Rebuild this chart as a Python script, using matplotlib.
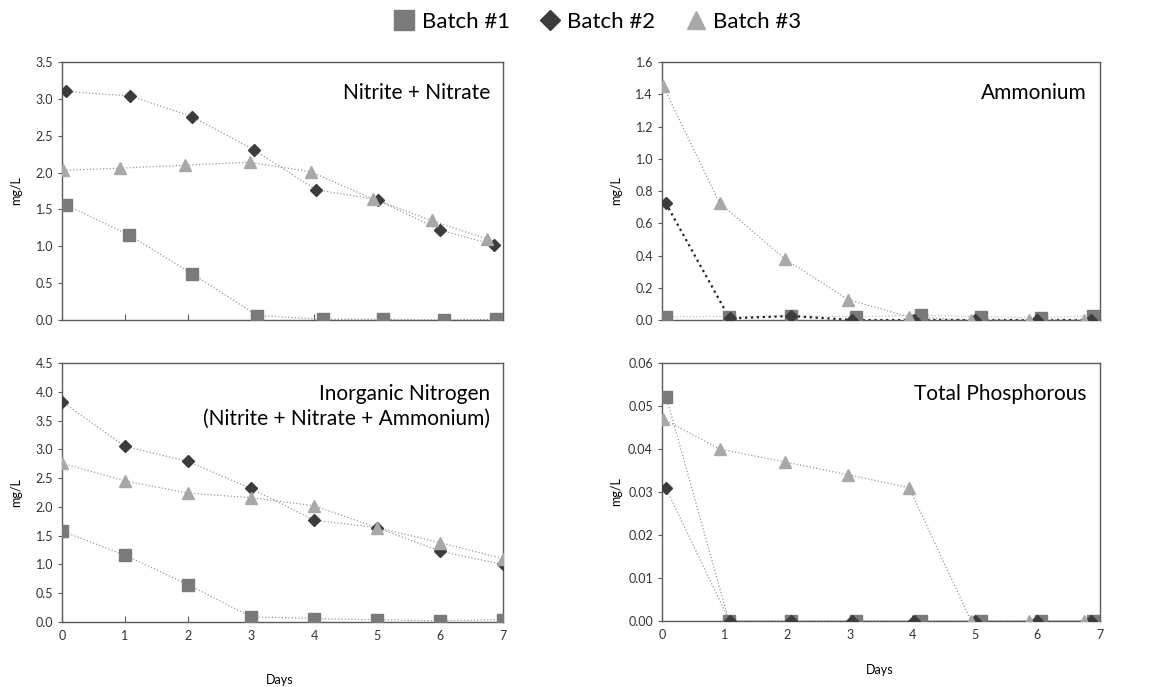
import numpy as np
import matplotlib.pyplot as plt
from matplotlib.lines import Line2D

plt.rcParams['font.family'] = ['Lato', 'DejaVu Sans']

# sampling days (markers are slightly offset in the original figure)
days = [0, 1, 2, 3, 4, 5, 6, 7]
days_b1 = [0.07, 1.07, 2.06, 3.1, 4.14, 5.1, 6.06, 6.89]
days_b2 = [0.06, 1.08, 2.06, 3.04, 4.03, 5.01, 6.0, 6.86]
days_b3 = [0.02, 0.92, 1.96, 2.98, 3.95, 4.94, 5.87, 6.74]

# Nitrite + Nitrate
nn_b1 = [1.56, 1.15, 0.63, 0.06, 0.01, 0.01, 0.0, 0.01]
nn_b2 = [3.10, 3.04, 2.76, 2.31, 1.77, 1.63, 1.22, 1.02]
nn_b3 = [2.03, 2.06, 2.10, 2.14, 2.01, 1.64, 1.35, 1.10]

# Ammonium
am_b1 = [0.02, 0.02, 0.025, 0.02, 0.03, 0.02, 0.015, 0.025]
am_b2 = [0.725, 0.01, 0.025, 0.0, 0.0, 0.0, 0.0, 0.0]
am_b3 = [1.45, 0.725, 0.38, 0.125, 0.02, 0.0, 0.0, 0.0]

# Inorganic nitrogen
in_b1 = [1.58, 1.16, 0.65, 0.09, 0.06, 0.04, 0.02, 0.04]
in_b2 = [3.83, 3.05, 2.79, 2.32, 1.77, 1.64, 1.23, 1.00]
in_b3 = [2.76, 2.45, 2.24, 2.16, 2.02, 1.64, 1.38, 1.10]

# Total phosphorous
tp_b1 = [0.052, 0.0, 0.0, 0.0, 0.0, 0.0, 0.0, 0.0]
tp_b2 = [0.031, 0.0, 0.0, 0.0, 0.0, 0.0, 0.0, 0.0]
tp_b3 = [0.047, 0.040, 0.037, 0.034, 0.031, 0.0, 0.0, 0.0]

c1, c2, c3 = '#7a7a7a', '#3c3c3c', '#a8a8a8'
line_c = '#9a9a9a'
spine_c = '#5a5a5a'

fig = plt.figure(figsize=(11.63, 6.87), dpi=100)
W, H = 1163, 687

def make_ax(l, r, t, b):
    return fig.add_axes([l / W, 1 - b / H, (r - l) / W, (b - t) / H])

ax1 = make_ax(62, 503, 62, 320)
ax2 = make_ax(662, 1100, 62, 320)
ax3 = make_ax(62, 503, 363, 622)
ax4 = make_ax(662, 1100, 363, 621)

def series(ax, x, y, marker, color, ms, lc=line_c, ls=':', lw=0.9):
    ax.plot(x, y, linestyle=ls, color=lc, lw=lw, zorder=2)
    ax.plot(x, y, linestyle='none', marker=marker, color=color, ms=ms,
            markeredgecolor=color, zorder=3)

def style(ax, ymax, ystep, fmt, title, xlabels):
    ax.set_xlim(0, 7)
    ax.set_ylim(0, ymax)
    ax.set_yticks(np.arange(0, ymax + ystep / 2, ystep))
    ax.yaxis.set_major_formatter(plt.FormatStrFormatter(fmt))
    ax.set_xticks(days)
    if not xlabels:
        ax.set_xticklabels([])
    for s in ax.spines.values():
        s.set_color(spine_c)
        s.set_linewidth(1.0)
    ax.tick_params(axis='x', direction='in', length=4, color=spine_c,
                   labelsize=9, pad=6)
    ax.tick_params(axis='y', direction='out', length=3, color=spine_c,
                   labelsize=9)
    ax.set_ylabel('mg/L', fontsize=9)
    ax.text(0.97, 0.92, title, transform=ax.transAxes, ha='right', va='top',
            fontsize=15, linespacing=1.3)
    for lab in ax.get_xticklabels() + ax.get_yticklabels():
        lab.set_color('#333333')

# Nitrite + Nitrate
series(ax1, days_b1, nn_b1, 's', c1, 9)
series(ax1, days_b2, nn_b2, 'D', c2, 6.5)
series(ax1, days_b3, nn_b3, '^', c3, 9)
style(ax1, 3.5, 0.5, '%.1f', 'Nitrite + Nitrate', False)

# Ammonium
series(ax2, days_b1, am_b1, 's', c1, 9, lc='#bdbdbd')
series(ax2, days_b2, am_b2, 'D', c2, 6.5, lc='#222222', lw=1.6)
series(ax2, days_b3, am_b3, '^', c3, 9)
style(ax2, 1.6, 0.2, '%.1f', 'Ammonium', False)

# Inorganic nitrogen
series(ax3, days, in_b1, 's', c1, 9)
series(ax3, days, in_b2, 'D', c2, 6.5)
series(ax3, days, in_b3, '^', c3, 9)
style(ax3, 4.5, 0.5, '%.1f', 'Inorganic Nitrogen\n(Nitrite + Nitrate + Ammonium)', True)

# Total phosphorous
series(ax4, days_b1, tp_b1, 's', c1, 9)
series(ax4, days_b2, tp_b2, 'D', c2, 6.5)
series(ax4, days_b3, tp_b3, '^', c3, 9)
style(ax4, 0.06, 0.01, '%.2f', 'Total Phosphorous', True)

for ax in (ax1, ax2, ax3, ax4):
    ax.yaxis.set_label_coords(-0.09, 0.5)

fig.text(280 / W, 1 - 680 / H, 'Days', ha='center', va='center', fontsize=9)
fig.text(880 / W, 1 - 670 / H, 'Days', ha='center', va='center', fontsize=9)

handles = [
    Line2D([], [], linestyle='none', marker='s', color=c1, ms=14, label='Batch #1'),
    Line2D([], [], linestyle='none', marker='D', color=c2, ms=10, label='Batch #2'),
    Line2D([], [], linestyle='none', marker='^', color=c3, ms=13, label='Batch #3'),
]
fig.legend(handles=handles, loc='center', bbox_to_anchor=(596 / W, 1 - 22 / H),
           ncol=3, frameon=False, fontsize=16, handletextpad=0.2,
           columnspacing=1.2, handlelength=1.2)

fig.savefig('out.png', dpi=100)
